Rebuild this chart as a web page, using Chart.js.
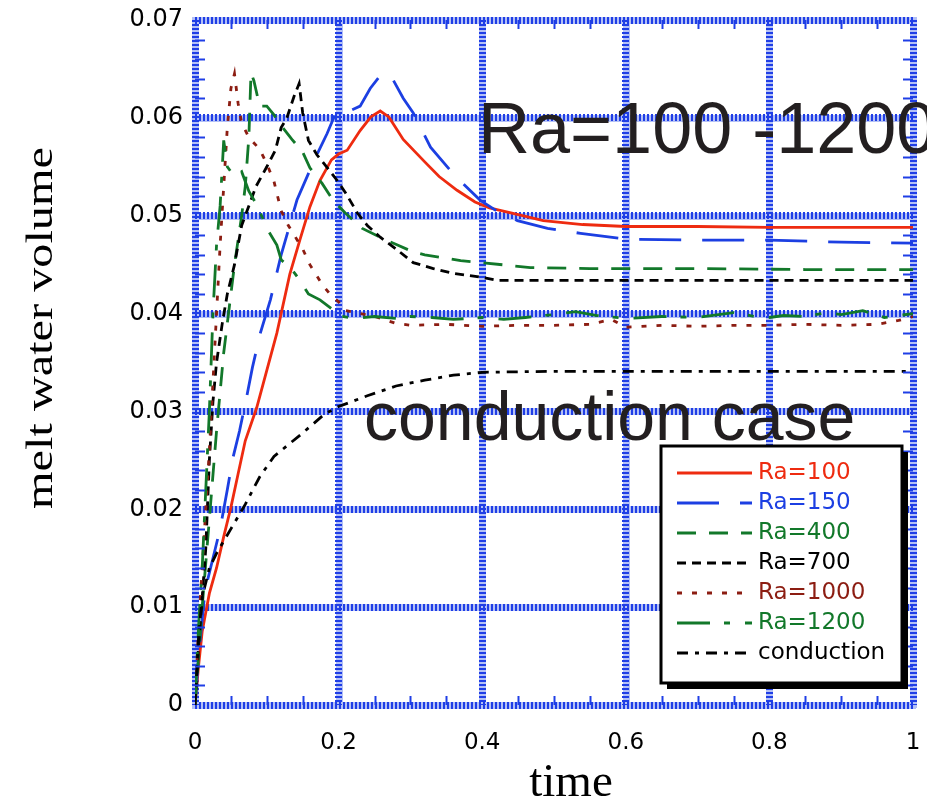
<!DOCTYPE html>
<html>
<head>
<meta charset="utf-8">
<title>melt water volume vs time</title>
<script src="https://cdn.jsdelivr.net/npm/chart.js@4.4.1/dist/chart.umd.min.js"></script>
<style>
  html, body { margin: 0; padding: 0; background: #fff; }
</style>
</head>
<body>
<canvas id="meltChart" width="927" height="800"></canvas>
<script>
// ---------------- Data ----------------
const seriesLabels = ["Ra=100", "Ra=150", "Ra=400", "Ra=700", "Ra=1000", "Ra=1200", "conduction"];

const ra100Time = [0, 0.005, 0.01, 0.02, 0.03, 0.04, 0.05, 0.06, 0.07, 0.086, 0.1, 0.114, 0.132, 0.146, 0.16, 0.174, 0.19, 0.2, 0.212, 0.23, 0.245, 0.258, 0.27, 0.29, 0.32, 0.34, 0.365, 0.39, 0.41, 0.44, 0.485, 0.54, 0.6, 0.7, 0.8, 0.9, 1];
const ra100Vol = [0, 0.004, 0.0075, 0.0114, 0.014, 0.0172, 0.0202, 0.0236, 0.027, 0.0304, 0.0342, 0.038, 0.044, 0.0475, 0.0509, 0.0536, 0.0557, 0.0563, 0.0567, 0.0587, 0.0601, 0.0607, 0.0601, 0.0578, 0.0555, 0.054, 0.0526, 0.0514, 0.0508, 0.0503, 0.0495, 0.0491, 0.0489, 0.0489, 0.0488, 0.0488, 0.0488];

const ra150Time = [0, 0.005, 0.014, 0.025, 0.035, 0.045, 0.053, 0.062, 0.072, 0.08, 0.091, 0.105, 0.12, 0.142, 0.165, 0.184, 0.196, 0.206, 0.218, 0.23, 0.244, 0.26, 0.272, 0.29, 0.304, 0.328, 0.363, 0.397, 0.42, 0.449, 0.491, 0.537, 0.6, 0.7, 0.8, 0.9, 1];
const ra150Vol = [0, 0.005, 0.0117, 0.015, 0.018, 0.022, 0.0253, 0.028, 0.0315, 0.0345, 0.038, 0.0414, 0.046, 0.0516, 0.0555, 0.0584, 0.0605, 0.061, 0.0608, 0.0612, 0.063, 0.0645, 0.0644, 0.062, 0.0605, 0.057, 0.054, 0.0516, 0.0505, 0.0495, 0.0487, 0.0482, 0.0476, 0.0475, 0.0475, 0.0473, 0.0472];

const ra400Time = [0, 0.005, 0.01, 0.02, 0.03, 0.04, 0.045, 0.055, 0.065, 0.07, 0.075, 0.078, 0.082, 0.09, 0.1, 0.11, 0.12, 0.135, 0.15, 0.16, 0.177, 0.192, 0.209, 0.233, 0.258, 0.282, 0.304, 0.32, 0.346, 0.37, 0.4, 0.467, 0.55, 0.7, 0.85, 1];
const ra400Vol = [0, 0.005, 0.01, 0.019, 0.028, 0.036, 0.039, 0.045, 0.05, 0.053, 0.058, 0.0646, 0.0638, 0.0612, 0.0612, 0.0603, 0.0592, 0.0578, 0.0565, 0.0549, 0.0533, 0.0516, 0.0503, 0.0487, 0.0478, 0.047, 0.0463, 0.046, 0.0457, 0.0454, 0.0452, 0.0447, 0.0446, 0.0446, 0.0445, 0.0445];

const ra700Time = [0, 0.005, 0.01, 0.015, 0.02, 0.025, 0.03, 0.038, 0.045, 0.05, 0.055, 0.065, 0.075, 0.085, 0.1, 0.112, 0.12, 0.128, 0.138, 0.145, 0.15, 0.158, 0.17, 0.18, 0.198, 0.21, 0.226, 0.24, 0.258, 0.28, 0.304, 0.332, 0.36, 0.4, 0.42, 0.5, 0.6, 0.7, 0.8, 0.9, 1];
const ra700Vol = [0, 0.006, 0.011, 0.016, 0.025, 0.031, 0.035, 0.039, 0.042, 0.0435, 0.045, 0.049, 0.051, 0.053, 0.055, 0.0567, 0.059, 0.06, 0.0622, 0.0635, 0.0605, 0.0577, 0.0562, 0.0553, 0.0536, 0.0523, 0.0503, 0.049, 0.0478, 0.0466, 0.0452, 0.0446, 0.0441, 0.0437, 0.0434, 0.0434, 0.0434, 0.0434, 0.0434, 0.0434, 0.0434];

const ra1000Time = [0, 0.005, 0.01, 0.02, 0.03, 0.035, 0.04, 0.045, 0.05, 0.055, 0.06, 0.065, 0.075, 0.09, 0.1, 0.11, 0.12, 0.13, 0.15, 0.16, 0.177, 0.19, 0.2, 0.21, 0.23, 0.25, 0.28, 0.3, 0.35, 0.4, 0.45, 0.5, 0.55, 0.58, 0.6, 0.65, 0.7, 0.75, 0.8, 0.85, 0.9, 0.95, 0.98, 1];
const ra1000Vol = [0, 0.008, 0.014, 0.026, 0.04, 0.047, 0.053, 0.059, 0.063, 0.0645, 0.0615, 0.0595, 0.058, 0.0568, 0.0553, 0.0535, 0.0505, 0.049, 0.0466, 0.045, 0.043, 0.0418, 0.0412, 0.0403, 0.04, 0.0397, 0.039, 0.0388, 0.0389, 0.0387, 0.0388, 0.0388, 0.0389, 0.0394, 0.0386, 0.0388, 0.0387, 0.0388, 0.0388, 0.0389, 0.0388, 0.0389, 0.0393, 0.0397];

const ra1200Time = [0, 0.005, 0.01, 0.015, 0.02, 0.025, 0.03, 0.035, 0.04, 0.045, 0.055, 0.065, 0.075, 0.087, 0.1, 0.114, 0.12, 0.135, 0.146, 0.158, 0.174, 0.19, 0.2, 0.22, 0.25, 0.28, 0.3, 0.33, 0.36, 0.4, 0.43, 0.46, 0.5, 0.53, 0.56, 0.6, 0.65, 0.7, 0.75, 0.78, 0.8, 0.82, 0.85, 0.88, 0.9, 0.93, 0.96, 1];
const ra1200Vol = [0, 0.008, 0.014, 0.022, 0.03, 0.04, 0.047, 0.051, 0.0577, 0.055, 0.054, 0.0545, 0.0525, 0.051, 0.0487, 0.047, 0.0455, 0.0445, 0.0434, 0.042, 0.0414, 0.0405, 0.0398, 0.0395, 0.0397, 0.0395, 0.0397, 0.0396, 0.0394, 0.0396, 0.0394, 0.0396, 0.0399, 0.0402, 0.0398, 0.0395, 0.0397, 0.0396, 0.0401, 0.0397, 0.0396, 0.0398, 0.0397, 0.0401, 0.0399, 0.0403, 0.0396, 0.04];

const condTime = [0, 0.005, 0.01, 0.02, 0.03, 0.05, 0.07, 0.09, 0.11, 0.13, 0.15, 0.18, 0.2, 0.24, 0.28, 0.32, 0.36, 0.4, 0.5, 0.6, 0.7, 0.8, 0.9, 1];
const condVol = [0, 0.007, 0.011, 0.014, 0.0155, 0.018, 0.0205, 0.0233, 0.0254, 0.0266, 0.0278, 0.0297, 0.0305, 0.0316, 0.0326, 0.0332, 0.0337, 0.034, 0.0341, 0.0341, 0.0341, 0.0341, 0.0341, 0.0341];

const xTicks = [0, 0.2, 0.4, 0.6, 0.8, 1];
const yTicks = [0, 0.01, 0.02, 0.03, 0.04, 0.05, 0.06, 0.07];

// ---------------- Styles ----------------
const GRID_DARK = "#1f3ee6";
const GRID_LIGHT = "#b3c0f6";
const RED = "#ee2b10";
const BLUE = "#1c3fe2";
const GREEN = "#12782a";
const DARKRED = "#8c1d12";
const BLACK = "#000000";

const toPoints = (ts, vs) => ts.map((t, i) => ({ x: t, y: vs[i] }));

const makeSet = (label, ts, vs, color, dash) => ({
    label: label,
    data: toPoints(ts, vs),
    borderColor: color,
    backgroundColor: color,
    borderWidth: 2.8,
    borderDash: dash,
    pointRadius: 0,
    tension: 0,
    fill: false
});

const datasets = [
    makeSet(seriesLabels[6], condTime, condVol, BLACK, [11, 7, 4, 7]),
    makeSet(seriesLabels[5], ra1200Time, ra1200Vol, GREEN, [33, 14, 6, 15]),
    makeSet(seriesLabels[4], ra1000Time, ra1000Vol, DARKRED, [5, 10]),
    makeSet(seriesLabels[3], ra700Time, ra700Vol, BLACK, [9, 6]),
    makeSet(seriesLabels[2], ra400Time, ra400Vol, GREEN, [19, 13]),
    makeSet(seriesLabels[1], ra150Time, ra150Vol, BLUE, [42, 21]),
    makeSet(seriesLabels[0], ra100Time, ra100Vol, RED, [])
];

// light blue under the striped grid lines
const gridUnderlay = {
    id: "gridUnderlay",
    beforeDraw(chart) {
        const { ctx, chartArea: a, scales: { x, y } } = chart;
        ctx.save();
        ctx.strokeStyle = GRID_LIGHT;
        ctx.lineWidth = 7;
        xTicks.forEach(v => {
            const px = Math.round(x.getPixelForValue(v)) + 0.5;
            ctx.beginPath(); ctx.moveTo(px, a.top - 3); ctx.lineTo(px, a.bottom + 3); ctx.stroke();
        });
        yTicks.forEach(v => {
            const py = Math.round(y.getPixelForValue(v)) + 0.5;
            ctx.beginPath(); ctx.moveTo(a.left - 3, py); ctx.lineTo(a.right + 3, py); ctx.stroke();
        });
        ctx.restore();
    }
};

// small inward ticks along the frame
const minorTicks = {
    id: "minorTicks",
    afterDatasetsDraw(chart) {
        const { ctx, chartArea: a, scales: { x, y } } = chart;
        ctx.save();
        ctx.strokeStyle = GRID_DARK;
        ctx.lineWidth = 2;
        for (let i = 1; i < 35; i++) {
            if (i % 5 === 0) continue;
            const py = Math.round(y.getPixelForValue(i * 0.002)) + 0.5;
            ctx.beginPath(); ctx.moveTo(a.left, py); ctx.lineTo(a.left + 10, py); ctx.stroke();
            ctx.beginPath(); ctx.moveTo(a.right, py); ctx.lineTo(a.right - 10, py); ctx.stroke();
        }
        for (let i = 1; i < 20; i++) {
            if (i % 4 === 0) continue;
            const px = Math.round(x.getPixelForValue(i * 0.05)) + 0.5;
            ctx.beginPath(); ctx.moveTo(px, a.top); ctx.lineTo(px, a.top + 9); ctx.stroke();
            ctx.beginPath(); ctx.moveTo(px, a.bottom); ctx.lineTo(px, a.bottom - 9); ctx.stroke();
        }
        ctx.restore();
    }
};

// annotations, axis titles and the boxed legend
const overlay = {
    id: "overlay",
    afterDraw(chart) {
        const ctx = chart.ctx;
        ctx.save();

        ctx.fillStyle = "#231f20";
        ctx.textBaseline = "alphabetic";
        ctx.textAlign = "left";
        ctx.font = "72px 'Liberation Sans', Arial, sans-serif";
        ctx.fillText("Ra=100 -1200", 478, 153);
        ctx.font = "68px 'Liberation Sans', Arial, sans-serif";
        ctx.fillText("conduction case", 364, 440);

        // x axis title
        ctx.fillStyle = "#000";
        ctx.font = "47px 'Liberation Serif', 'Times New Roman', serif";
        ctx.textAlign = "center";
        ctx.fillText("time", 571, 796);

        // y axis title, slightly stretched along its length
        ctx.save();
        ctx.translate(52, 328);
        ctx.rotate(-Math.PI / 2);
        ctx.scale(1.27, 1);
        ctx.font = "38px 'Liberation Serif', 'Times New Roman', serif";
        ctx.fillText("melt water volume", 0, 0);
        ctx.restore();

        // legend box with drop shadow
        const bx = 661, by = 446, bw = 241, bh = 237;
        ctx.fillStyle = "#000";
        ctx.fillRect(bx + 6, by + 6, bw, bh);
        ctx.fillStyle = "#fff";
        ctx.fillRect(bx, by, bw, bh);
        ctx.lineWidth = 3;
        ctx.strokeStyle = "#000";
        ctx.strokeRect(bx, by, bw, bh);

        ctx.font = "23px 'DejaVu Sans', sans-serif";
        ctx.textAlign = "left";
        ctx.textBaseline = "middle";
        const order = chart.data.datasets.slice().reverse();
        order.forEach((ds, i) => {
            const ly = 473 + i * 30;
            ctx.strokeStyle = ds.borderColor;
            ctx.lineWidth = 2.8;
            ctx.setLineDash(ds.borderDash);
            ctx.beginPath(); ctx.moveTo(677, ly); ctx.lineTo(752, ly); ctx.stroke();
            ctx.setLineDash([]);
            ctx.fillStyle = ds.borderColor;
            ctx.fillText(ds.label, 758, ly);
        });
        ctx.restore();
    }
};

const ctx = document.getElementById("meltChart").getContext("2d");

new Chart(ctx, {
    type: "line",
    data: { datasets: datasets },
    options: {
        responsive: false,
        animation: false,
        devicePixelRatio: 1,
        layout: { padding: { top: 20, right: 14, left: 0, bottom: 0 } },
        plugins: {
            legend: { display: false },
            tooltip: { enabled: false }
        },
        scales: {
            x: {
                type: "linear",
                min: 0,
                max: 1,
                afterBuildTicks: s => { s.ticks = xTicks.map(v => ({ value: v })); },
                afterFit: s => { s.height = 95; s.paddingLeft = 0; s.paddingRight = 0; },
                grid: { color: GRID_DARK, lineWidth: 7, drawTicks: false },
                border: { display: false, dash: [2, 2] },
                ticks: {
                    padding: 24,
                    color: "#000",
                    font: { family: "'DejaVu Sans', sans-serif", size: 23 },
                    callback: v => (v === 0 || v === 1) ? String(v) : v.toFixed(1)
                }
            },
            y: {
                type: "linear",
                min: 0,
                max: 0.07,
                afterBuildTicks: s => { s.ticks = yTicks.map(v => ({ value: v })); },
                afterFit: s => { s.width = 195; s.paddingTop = 0; s.paddingBottom = 0; },
                grid: { color: GRID_DARK, lineWidth: 7, drawTicks: false },
                border: { display: false, dash: [2, 2] },
                ticks: {
                    padding: 12,
                    color: "#000",
                    font: { family: "'DejaVu Sans', sans-serif", size: 24 },
                    callback: v => v === 0 ? "0" : v.toFixed(2)
                }
            }
        }
    },
    plugins: [gridUnderlay, minorTicks, overlay]
});
</script>
</body>
</html>
